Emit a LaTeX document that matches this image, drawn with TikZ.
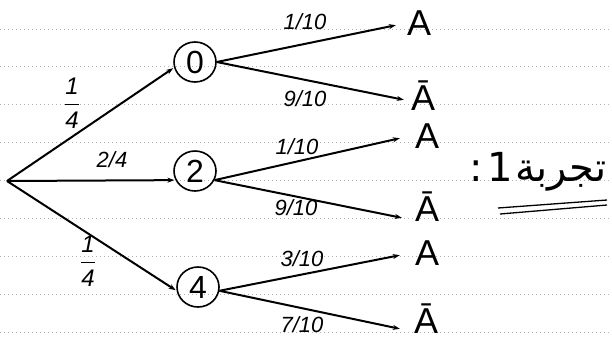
\documentclass[tikz,border=0pt]{standalone}
\usepackage{fontspec}
\usepackage{amsmath}
\setmainfont{Liberation Sans}
\newfontfamily\arabicfont[Script=Arabic]{DejaVu Sans}
\TeXXeTstate=1
\usetikzlibrary{arrows.meta,shapes.geometric,calc}
\begin{document}
\begin{tikzpicture}[x=1pt,y=-1pt,
  ink/.style={line width=2pt,black},
  branch/.style={ink,-{Stealth[length=7pt,width=5pt]},shorten >=1pt},
  ruled/.style={gray!60,line width=0.9pt,dash pattern=on 1.2pt off 2.8pt},
  circ/.style={draw,ink,line width=1.6pt,ellipse,inner sep=0pt,minimum width=42pt,minimum height=40pt,font=\fontsize{32}{34}\selectfont},
  evt/.style={font=\fontsize{36}{38}\selectfont,inner sep=0pt,anchor=base},
  prob/.style={font=\itshape\fontsize{22}{24}\selectfont,inner sep=0pt},
  fracl/.style={font=\itshape\fontsize{24}{26}\selectfont,inner sep=0pt}]
\fill[white] (0,0) rectangle (612,341);
\useasboundingbox (0,0) rectangle (612,341);
% ruled lines
\foreach \yy in {29,66.5,104,142,180,218,256,294,332}
  \draw[ruled] (0,\yy) -- (612,\yy);
% tree nodes
\coordinate (r) at (7,181);
\node[circ] (n0) at (195,62) {0};
\node[circ] (n2) at (195,171) {2};
\node[circ] (n4) at (198,287) {4};
% outcomes
\node[evt] (a1) at (419,35) {A};
\node[evt] (b1) at (423,110) {Ā};
\node[evt] (a2) at (427,148) {A};
\node[evt] (b2) at (427,221) {Ā};
\node[evt] (a3) at (427,265) {A};
\node[evt] (b3) at (426,333) {Ā};
% first level
\draw[branch] (r) -- (n0.195);
\draw[branch] (r) -- (n2.205);
\draw[branch] (r) -- (n4.190);
\node[fracl] (p0) at (72,103) {$\dfrac{\textit{1}}{\textit{4}}$};
\node[prob] (p2) at (112,160) {2/4};
\node[fracl] (p4) at (88,261) {$\dfrac{\textit{1}}{\textit{4}}$};
% second level
\draw[branch] (n0.east) -- ($(a1.base west)+(-10,-10)$);
\draw[branch] (n0.east) -- ($(b1.base west)+(-6,-10)$);
\draw[branch] (n2.-25) -- ($(a2.base west)+(-14,-10)$);
\draw[branch] (n2.-25) -- ($(b2.base west)+(-12,-3)$);
\draw[branch] (n4.-10) -- ($(a3.base west)+(-14,-10)$);
\draw[branch] (n4.-10) -- ($(b3.base west)+(-13,-4)$);
\node[prob] (q1) at (305,22) {1/10};
\node[prob] (q2) at (305,99) {9/10};
\node[prob] (q3) at (297,147) {1/10};
\node[prob] (q4) at (296,208) {9/10};
\node[prob] (q5) at (302,259) {3/10};
\node[prob] (q6) at (302,325) {7/10};
% title
\node[font=\arabicfont\fontsize{40}{42}\selectfont,inner sep=0pt] (t) at (538,172) {\beginR تجربة\kern2pt 1\kern5pt :\endR};
\draw[line width=1.3pt] (498,208) -- (607,200);
\draw[line width=1.3pt] (500,214) -- (607,205);
\end{tikzpicture}
\end{document}
